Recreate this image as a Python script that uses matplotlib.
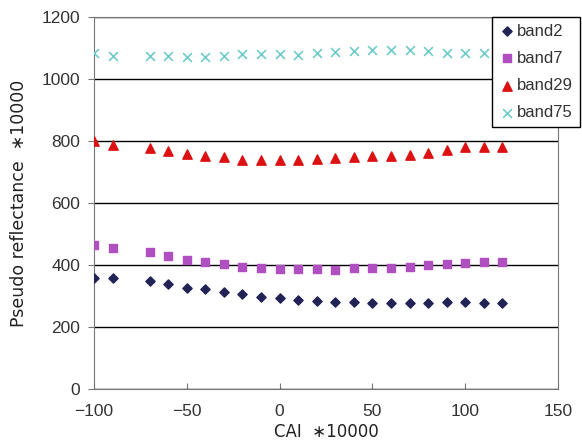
import numpy as np
import matplotlib
matplotlib.use("Agg")
import matplotlib.pyplot as plt

plt.rcParams['font.family'] = ['Liberation Sans', 'DejaVu Sans']

cai = [-100, -90, -70, -60, -50, -40, -30, -20, -10, 0, 10, 20, 30, 40, 50, 60, 70, 80, 90, 100, 110, 120]
band2 = [359, 359, 349, 338, 325, 322, 312, 306, 296, 292, 287, 284, 282, 282, 278, 278, 278, 278, 280, 280, 278, 278]
band7 = [464, 454, 441, 430, 416, 411, 402, 395, 391, 386, 386, 387, 385, 391, 391, 391, 395, 400, 403, 405, 410, 410]
band29 = [800, 787, 778, 768, 757, 750, 748, 740, 740, 740, 738, 742, 746, 748, 750, 752, 755, 762, 772, 780, 782, 780]
band75 = [1085, 1075, 1075, 1075, 1072, 1072, 1075, 1080, 1082, 1080, 1078, 1085, 1088, 1090, 1095, 1095, 1092, 1090, 1085, 1085, 1083, 1083]

fig = plt.figure(figsize=(5.82, 4.48), dpi=100)
ax = fig.add_axes([94/582, 1 - 389/448, (558 - 94)/582, (389 - 17)/448])

ax.scatter(cai, band2, marker='D', s=22, color='#222255', label='band2', zorder=3)
ax.scatter(cai, band7, marker='s', s=40, color='#b050c0', label='band7', zorder=3)
ax.scatter(cai, band29, marker='^', s=45, color='#dd1111', label='band29', zorder=3)
ax.scatter(cai, band75, marker='x', s=40, color='#70cccc', linewidths=1.2, label='band75', zorder=3)

ax.set_xlim(-100, 150)
ax.set_ylim(0, 1200)
ax.set_xticks(np.arange(-100, 151, 50))
ax.set_yticks(np.arange(0, 1201, 200))
ax.set_xticklabels(['\u2212100', '\u221250', '0', '50', '100', '150'])
ax.yaxis.grid(True, color='black', linewidth=1)
ax.set_axisbelow(True)
for s in ax.spines.values():
    s.set_color('#777777')
ax.tick_params(axis='x', direction='in', length=4, labelsize=12.5, color='#777777', pad=11,
               labelcolor='#333333')
ax.tick_params(axis='y', direction='out', length=4, labelsize=12.5, color='#777777', pad=6,
               labelcolor='#333333')

ax.set_xlabel('CAI  \u221710000', fontsize=12, labelpad=3, family=['DejaVu Sans'], color='#222222')
ax.set_ylabel('Pseudo reflectance  \u221710000', fontsize=12.5, labelpad=10, family=['DejaVu Sans'],
              color='#222222')

leg = ax.legend(loc='upper left', bbox_to_anchor=(492/582, 1 - 17/448), bbox_transform=fig.transFigure,
                frameon=True, fancybox=False, edgecolor='black', framealpha=1,
                fontsize=12, handletextpad=0.1, borderpad=0.4, labelspacing=0.73,
                handlelength=1.0, borderaxespad=0, scatterpoints=1)
leg.get_frame().set_linewidth(1)
leg.set_zorder(5)
for t in leg.get_texts():
    t.set_color('#333333')

fig.savefig('out.png', dpi=100)
